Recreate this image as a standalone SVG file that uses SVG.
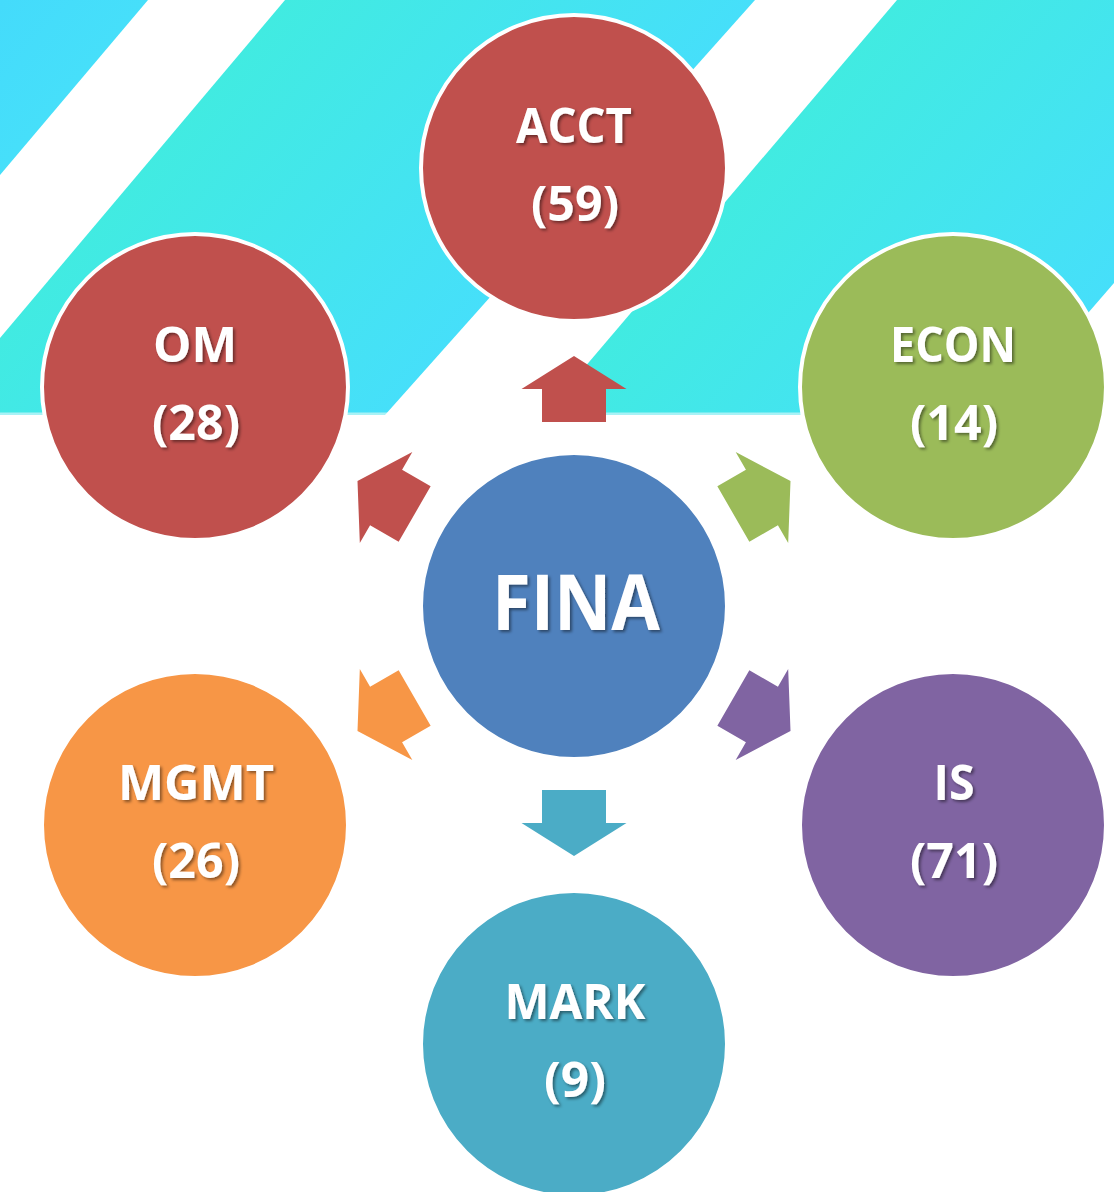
<svg xmlns="http://www.w3.org/2000/svg" xmlns:xlink="http://www.w3.org/1999/xlink" width="1114" height="1192" viewBox="0 0 1114 1192">
  <defs>
    <linearGradient id="bg" gradientUnits="userSpaceOnUse" x1="0" y1="0" x2="797" y2="693">
      <stop offset="0" stop-color="#44DBFB"/>
      <stop offset="0.106" stop-color="#46DFFA"/>
      <stop offset="0.204" stop-color="#41EBE1"/>
      <stop offset="0.539" stop-color="#46DFFA"/>
      <stop offset="0.641" stop-color="#41EBE1"/>
      <stop offset="0.971" stop-color="#46DFFA"/>
      <stop offset="1" stop-color="#46DFFA"/>
    </linearGradient>
    <filter id="shadow" x="-10%" y="-20%" width="130%" height="150%">
      <feDropShadow dx="2" dy="2" stdDeviation="1.5" flood-color="#000" flood-opacity="0.45"/>
    </filter>
    <path id="arrow" d="M0,-33 L52.5,0 L32,0 L32,33 L-32,33 L-32,0 L-52.5,0 Z"/>
  </defs>
  <style>
    .node { stroke: #FFFFFF; stroke-width: 4; }
    .lbl { font-family: "Open Sans", "Noto Sans", "Liberation Sans", sans-serif; font-weight: bold; font-size: 48px; fill: #FFFFFF; text-anchor: middle; filter: url(#shadow); }
    .big { font-size: 77px; }
  </style>
  <rect width="1114" height="1192" fill="#FFFFFF"/>
  <g id="background">
    <rect x="0" y="0" width="1114" height="415" fill="url(#bg)"/>
    <rect x="0" y="412.5" width="1114" height="2.5" fill="#A8F2F6"/>
    <polygon points="148,0 285,0 0,338 0,175" fill="#FFFFFF"/>
    <polygon points="755,0 897,0 544,415 385,415" fill="#FFFFFF"/>
    <polygon points="1114,283 1114,416 999,416" fill="#FFFFFF"/>
  </g>
  <g id="connectors">
    <use xlink:href="#arrow" href="#arrow" fill="#C0504D" transform="translate(574,606) rotate(0) translate(0,-217)"/>
    <use xlink:href="#arrow" href="#arrow" fill="#9BBB59" transform="translate(574,606) rotate(60) translate(0,-217)"/>
    <use xlink:href="#arrow" href="#arrow" fill="#8064A2" transform="translate(574,606) rotate(120) translate(0,-217)"/>
    <use xlink:href="#arrow" href="#arrow" fill="#4BACC6" transform="translate(574,606) rotate(180) translate(0,-217)"/>
    <use xlink:href="#arrow" href="#arrow" fill="#F79646" transform="translate(574,606) rotate(240) translate(0,-217)"/>
    <use xlink:href="#arrow" href="#arrow" fill="#C0504D" transform="translate(574,606) rotate(300) translate(0,-217)"/>
  </g>
  <g id="node-acct">
    <circle class="node" cx="574" cy="168" r="153" fill="#C0504D"/>
    <text class="lbl" x="574" y="143" textLength="116" lengthAdjust="spacingAndGlyphs">ACCT</text>
    <text class="lbl" x="575" y="221" textLength="88" lengthAdjust="spacingAndGlyphs">(59)</text>
  </g>
  <g id="node-om">
    <circle class="node" cx="195" cy="387" r="153" fill="#C0504D"/>
    <text class="lbl" x="195" y="362" textLength="84" lengthAdjust="spacingAndGlyphs">OM</text>
    <text class="lbl" x="196" y="440" textLength="88" lengthAdjust="spacingAndGlyphs">(28)</text>
  </g>
  <g id="node-econ">
    <circle class="node" cx="953" cy="387" r="153" fill="#9BBB59"/>
    <text class="lbl" x="953" y="362" textLength="126" lengthAdjust="spacingAndGlyphs">ECON</text>
    <text class="lbl" x="954" y="440" textLength="88" lengthAdjust="spacingAndGlyphs">(14)</text>
  </g>
  <g id="node-fina">
    <circle class="node" cx="574" cy="606" r="153" fill="#4F81BD"/>
    <text class="lbl big" x="576" y="630" textLength="168" lengthAdjust="spacingAndGlyphs">FINA</text>
  </g>
  <g id="node-mgmt">
    <circle class="node" cx="195" cy="825" r="153" fill="#F79646"/>
    <text class="lbl" x="196" y="800" textLength="156" lengthAdjust="spacingAndGlyphs">MGMT</text>
    <text class="lbl" x="196" y="878" textLength="88" lengthAdjust="spacingAndGlyphs">(26)</text>
  </g>
  <g id="node-is">
    <circle class="node" cx="953" cy="825" r="153" fill="#8064A2"/>
    <text class="lbl" x="954" y="800" textLength="41" lengthAdjust="spacingAndGlyphs">IS</text>
    <text class="lbl" x="954" y="878" textLength="88" lengthAdjust="spacingAndGlyphs">(71)</text>
  </g>
  <g id="node-mark">
    <circle class="node" cx="574" cy="1044" r="153" fill="#4BACC6"/>
    <text class="lbl" x="575" y="1019" textLength="141" lengthAdjust="spacingAndGlyphs">MARK</text>
    <text class="lbl" x="575" y="1097" textLength="62" lengthAdjust="spacingAndGlyphs">(9)</text>
  </g>
</svg>
